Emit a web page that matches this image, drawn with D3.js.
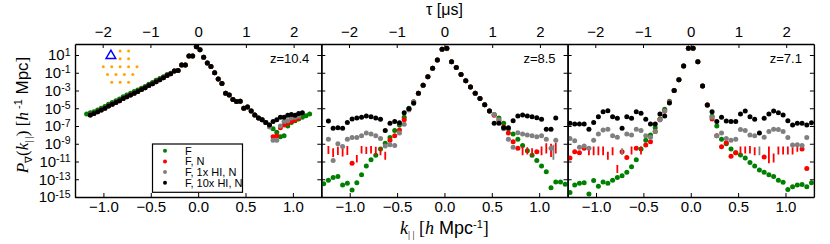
<!DOCTYPE html>
<html>
<head>
<meta charset="utf-8">
<script src="https://cdn.jsdelivr.net/npm/d3@7"></script>
<style>
body { margin: 0; background: #fff; }
text { font-family: "Liberation Sans", Arial, sans-serif; }
</style>
</head>
<body>
<svg id="chart" width="830" height="244"></svg>
<script>
// ---- data (values are log10 of P, null = not plotted) ----
var kTicks = [-1.0, -0.5, 0.0, 0.5, 1.0];
var tauTicks = [-2, -1, 0, 1, 2];
var yTickExp = [1, -1, -3, -5, -7, -9, -11, -13, -15];
var panelLabels = ["z=10.4", "z=8.5", "z=7.1"];
var seriesNames = ["F", "F, N", "F, 1x HI, N", "F, 10x HI, N"];

// k|| grid, z=10.4
var k1 = [-1.177, -1.139, -1.100, -1.061, -1.023, -0.984, -0.946, -0.907, -0.868, -0.830, -0.791,
    -0.753, -0.714, -0.675, -0.637, -0.598, -0.560, -0.521, -0.482, -0.444, -0.405, -0.367, -0.328,
    -0.290, -0.251, -0.212, -0.174, -0.135, -0.097, -0.058, -0.019,
    0.019, 0.058, 0.097, 0.135, 0.174, 0.212, 0.251, 0.290, 0.328, 0.367, 0.405, 0.444, 0.482, 0.521,
    0.560, 0.598, 0.637, 0.675, 0.714, 0.753, 0.791, 0.830, 0.868, 0.907, 0.946, 0.984, 1.023, 1.061,
    1.100, 1.139, 1.177];
// k|| grid, z=8.5 and z=7.1
var k2 = [-1.275, -1.225, -1.175, -1.125, -1.075, -1.025, -0.975, -0.925, -0.875, -0.825, -0.775,
    -0.725, -0.675, -0.625, -0.575, -0.525, -0.475, -0.425, -0.375, -0.325, -0.275, -0.225, -0.175,
    -0.125, -0.075, -0.025,
    0.025, 0.075, 0.125, 0.175, 0.225, 0.275, 0.325, 0.375, 0.425, 0.475, 0.525, 0.575, 0.625, 0.675,
    0.725, 0.775, 0.825, 0.875, 0.925, 0.975, 1.025, 1.075, 1.125, 1.175, 1.225, 1.275];

var p1F = [-5.65, -5.5, -5.4, -5.2, -5.0, -4.8, -4.55, -4.35, -4.15, -3.95, -3.7, -3.5, -3.3, -3.1, -2.95,
    -2.75, -2.55, -2.3, -2.1, -1.85, -1.65, -1.45, -1.2, -1.05, -0.8, -0.75, -0.13, -0.13, 0.9, 0.9, 1.94,
    1.6, 0.75, 0.1, -0.3, -1.0, -1.7, -2.2, -3.3, -3.5, -4.0, -4.25, -4.2, -5.0, -4.85, -5.3, -5.75, -6.1,
    -6.3, -6.6, -6.9, -7.3, -7.7, -8.2, -8.1, -7.0, -6.6, -6.4, -6.2, -6.0, -5.85, -5.65];
var p1N = [null, -5.75, -5.6, -5.4, -5.2, -5.0, -4.75, -4.55, -4.35, -4.15, -3.9, -3.7, -3.5, -3.3, -3.1,
    -2.9, -2.7, -2.45, -2.25, -2.0, -1.8, -1.55, -1.3, -1.1, -0.8, -0.75, -0.13, -0.13, 0.9, 0.9, 1.94,
    1.6, 0.75, 0.1, -0.3, -1.0, -1.7, -2.2, -3.3, -3.5, -4.0, -4.25, -4.2, -5.0, -4.85, -5.3, -5.75, -6.1,
    -6.3, -6.6, -7.0, -8.2, -8.1, -7.2, -6.9, -6.7, -6.5, -6.3, -6.1, null, null, null];
var p1HI1 = [null, -5.75, -5.6, -5.4, -5.2, -5.0, -4.75, -4.55, -4.35, -4.15, -3.9, -3.7, -3.5, -3.3, -3.1,
    -2.9, -2.7, -2.45, -2.25, -2.0, -1.8, -1.55, -1.3, -1.1, -0.8, -0.75, -0.13, -0.13, 0.9, 0.9, 1.94,
    1.6, 0.75, 0.1, -0.3, -1.0, -1.7, -2.2, -3.3, -3.5, -4.0, -4.25, -4.2, -5.0, -4.85, -5.3, -5.75, -6.1,
    -6.3, -6.6, -7.1, -8.6, -8.6, -7.0, -6.5, -6.4, -6.1, -6.0, -5.9, null, null, null];
var p1HI10 = [null, -5.75, -5.6, -5.4, -5.2, -5.0, -4.75, -4.55, -4.35, -4.15, -3.9, -3.7, -3.5, -3.3, -3.1,
    -2.9, -2.7, -2.45, -2.25, -2.0, -1.8, -1.55, -1.3, -1.1, -0.8, -0.75, -0.13, -0.13, 0.9, 0.9, 1.94,
    1.6, 0.75, 0.1, -0.3, -1.0, -1.7, -2.2, -3.3, -3.5, -4.0, -4.25, -4.2, -5.0, -4.85, -5.3, -5.75, -6.1,
    -6.3, -6.6, -6.9, -6.5, -6.3, -6.0, -6.0, -5.8, -5.7, -5.8, -5.6, -5.5, null, null];

var p2F = [-13.5, -13.1, -12.8, -12.7, -13.65, -13.45, -14.2, -13.4, -12.5, -11.5, -10.8, -10.3, -9.6,
    -8.95, -8.3, -7.5, -6.9, -6.0, -5.0, -4.26, -3.3, -2.4, -1.45, -0.5, 0.44, 1.64,
    1.7, 0.25, -0.4, -1.2, -1.9, -2.6, -3.3, -3.9, -4.6, -5.3, -5.7, -6.1, -6.7, -7.3, -7.9, -8.5, -9.2,
    -9.8, -10.3, -10.9, -11.5, -12.15, -13.95, -13.3, -13.3, -13.55];
var p2N = [null, null, null, null, null, null, -11.2, null, null, null, null, null, null, null, -8.6,
    -8.1, -7.45, -6.3, -5.1, -4.3, -3.3, -2.4, -1.45, -0.5, 0.44, 1.64,
    1.75, 0.25, -0.4, -1.2, -1.9, -2.6, -3.3, -3.9, -4.6, -5.3, -5.8, -6.4, -7.1, -7.8, -8.77, -9.5,
    null, null, null, -9.9, null, null, null, null, null, null];
var p2HI1 = [null, -8.5, -10.9, -9.0, -9.3, -8.5, -8.3, -8.3, -8.1, -7.8, -7.9, -8.1, -8.4, -9.25, -9.1,
    -9.2, -7.8, -6.8, -5.2, -4.3, -3.3, -2.4, -1.45, -0.5, 0.44, 1.64,
    1.75, 0.25, -0.4, -1.2, -1.9, -2.6, -3.3, -3.9, -4.6, -5.3, -5.7, -6.3, -7.3, -8.5, -9.4, -7.75, -7.9,
    -8.0, -8.1, -8.2, -8.1, -8.5, -9.5, -8.6, null, null];
var p2HI10 = [null, -6.44, -7.26, -7.2, -7.26, -6.6, -6.2, -6.1, -6.0, -5.87, -5.95, -6.1, -6.25, -7.5,
    -6.7, -6.5, -6.63, -5.5, -5.05, -4.45, -3.3, -2.4, -1.45, -0.5, 0.44, 1.64,
    1.75, 0.25, -0.4, -1.2, -1.9, -2.6, -3.3, -3.9, -4.6, -5.3, -6.7, -6.7, -7.2, -7.2, -6.4, -5.87, -5.76,
    -5.87, -5.95, -6.06, -6.25, -7.37, -7.37, -6.1, null, null];

var p3F = [-14.5, -13.65, -13.45, -13.4, -14.65, -13.15, -13.8, -13.3, -13.45, -13.1, -12.8, -12.6, -12.2,
    -11.6, -10.8, -9.6, -8.6, -8.0, -7.2, -6.2, -5.1, -4.2, -3.0, -1.8, -0.24, 1.75,
    1.75, 0.25, -2.5, -4.63, -5.9, -7.0, -8.5, -9.0, -9.6, -10.0, -10.27, -10.6, -11.1, -11.5, -11.96,
    -12.2, -12.5, -12.7, -13.1, -13.35, -14.15, -13.85, -13.65, -13.6, -13.85, -13.4];
var p3N = [-10.6, -9.9, -10.0, -9.5, null, null, null, null, null, null, null, -9.9, -10.55, null, -9.5,
    null, -9.15, -8.77, -7.63, -6.3, -5.3, -4.3, -3.0, -1.8, -0.24, 1.75,
    1.75, 0.25, -2.5, -4.63, -6.2, -8.1, -9.33, -8.9, -10.4, -10.0, null, null, null, null, null, -10.5,
    null, null, null, null, null, null, null, -9.6, -11.8, null];
var p3HI1 = [-8.4, -8.65, -9.4, -9.25, -9.5, -8.6, -7.9, -7.45, -7.37, -8.1, -8.27, null, -7.9, -8.0,
    -7.37, -7.5, -8.1, -8.27, -7.63, -6.3, -5.3, -4.3, -3.0, -1.8, -0.24, 1.75,
    1.75, 0.25, -2.5, -4.63, -6.0, -8.1, -7.8, -8.4, -8.6, -8.5, -7.4, -7.5, -8.0, -8.1, null, -8.27,
    -7.63, -7.37, -7.4, -7.63, -8.3, -9.15, -9.1, -9.2, -8.3, null];
var p3HI10 = [-6.7, -6.78, -6.78, -6.78, -7.37, -6.6, -5.95, -5.4, -5.28, -5.95, -6.13, -7.26, -5.95,
    -6.13, -5.4, -5.57, -6.25, -6.78, -6.78, -5.65, -5.87, -4.4, -3.0, -1.8, -0.24, 1.75,
    1.75, 0.25, -2.5, -4.63, -5.4, -6.5, -6.0, -6.44, -6.5, -6.5, -5.65, -5.3, -5.95, -6.25, -7.8, -6.13,
    -5.65, -5.3, -5.5, -5.76, -6.4, -6.9, -6.7, -6.7, -6.9, -6.63];

// error bars of points whose value falls below zero: [k, log10 low, log10 high]
var p2RedBars = [[-1.225, -10.16, -9.25], [-1.175, -10.5, -9.5], [-1.125, -10.27, -9.33], [-1.075, -10.45, -9.33],
    [-1.025, -10.27, -9.25], [-0.925, -11.1, -10.27], [-0.875, -10.1, -9.25], [-0.825, -10.16, -9.33],
    [-0.775, -10.1, -9.25], [-0.725, -10.27, -9.33], [-0.675, -10.3, -9.4], [-0.625, -10.8, -9.9],
    [0.825, -10.3, -9.3], [0.875, -10.2, -9.4], [0.925, -10.4, -9.5], [1.025, -10.3, -9.3],
    [1.075, -10.1, -8.95], [1.125, -10.5, -9.0], [1.175, -10.1, -8.9]];
var p2GreyBars = [[1.15, -10.8, -9.1]];
var p3RedBars = [[-1.075, -10.3, -9.3], [-1.025, -10.3, -9.3], [-0.975, -10.3, -9.3], [-0.925, -10.3, -9.3],
    [-0.875, -10.8, -9.9], [-0.825, -10.3, -9.4], [-0.775, -12.3, -11.4], [-0.625, -10.2, -9.3],
    [-0.525, -10.2, -9.3], [0.525, -10.2, -9.3], [0.575, -10.1, -9.3], [0.625, -10.1, -9.25],
    [0.675, -10.3, -9.4], [0.825, -11.2, -9.3], [0.875, -11.1, -10.1], [0.925, -10.2, -9.3],
    [0.975, -10.2, -9.3], [1.025, -10.2, -9.3], [1.075, -10.2, -9.4], [1.125, -9.9, -9.3]];
var p3GreyBars = [[-0.725, -10.27, -9.5], [0.725, -10.3, -9.3]];

// array layout inset (antenna positions, grid units) and the marked antenna
var layoutX = [2, 3, 2, 3, 0, 1, 2, 3, 4, 0.5, 1.5, 2.5, 3.5, 1, 2, 3];
var layoutY = [0, 0, 1, 1, 2, 2, 2, 2, 2, 3, 3, 3, 3, 4, 4, 4];
var markedX = [0.9], markedY = [0.6];

// ---- layout ----
var colors = ["green", "red", "gray", "black"];
let margin = {left: 75, top: 44}, panelWidth = 246.3, panelHeight = 153;

var panels = [
    {k: k1, series: [p1F, p1N, p1HI1, p1HI10], redBars: [], greyBars: [], label: panelLabels[0]},
    {k: k2, series: [p2F, p2N, p2HI1, p2HI10], redBars: p2RedBars, greyBars: p2GreyBars, label: panelLabels[1]},
    {k: k2, series: [p3F, p3N, p3HI1, p3HI10], redBars: p3RedBars, greyBars: p3GreyBars, label: panelLabels[2]}
];

var svg = d3.select("#chart");
svg.append("rect").attr("width", 830).attr("height", 244).attr("fill", "white");

svg.append("defs").append("clipPath").attr("id", "panelclip")
    .append("rect").attr("width", panelWidth).attr("height", panelHeight);

// scales
var x = d3.scaleLinear().domain([-1.3, 1.3]).range([0, panelWidth]);
var tau = d3.scaleLinear().domain([-2.58, 2.58]).range([0, panelWidth]);
var y = d3.scaleLog().domain([1e-15, Math.pow(10, 2.24)]).range([panelHeight, 0]);

function styleAxis(g){
    g.attr("font-family", null).attr("font-size", null);
    g.select(".domain").attr("stroke-width", 1.4);
    g.selectAll(".tick line").attr("stroke-width", 1);
}

panels.forEach(function(p, i){
    var g = svg.append("g")
        .attr("transform", `translate(${margin.left + i * panelWidth}, ${margin.top})`);

    var plot = g.append("g").attr("clip-path", "url(#panelclip)");

    //draw every series, bars go under their dots
    p.series.forEach(function(s, j){
        var bars = j == 1 ? p.redBars : (j == 2 ? p.greyBars : []);
        plot.selectAll(null)
            .data(bars)
            .enter()
            .append("line")
            .attr("x1", d => x(d[0])).attr("x2", d => x(d[0]))
            .attr("y1", d => y(Math.pow(10, d[1])))
            .attr("y2", d => y(Math.pow(10, d[2])))
            .attr("stroke", colors[j])
            .attr("stroke-width", 1.8);

        var pts = p.k.map((k, n) => ({k: k, v: s[n]})).filter(d => d.v !== null);
        plot.selectAll(null)
            .data(pts)
            .enter()
            .append("circle")
            .attr("cx", d => x(d.k))
            .attr("cy", d => y(Math.pow(10, d.v)))
            .attr("r", 2.5)
            .attr("fill", colors[j]);
    });

    //bottom axis k||
    var bottomAxis = g.append("g")
        .attr("transform", `translate(0, ${panelHeight})`)
        .call(d3.axisBottom(x).tickValues(kTicks).tickSize(-4).tickSizeOuter(0)
            .tickPadding(4.5).tickFormat(d3.format(".1f")));
    styleAxis(bottomAxis);
    bottomAxis.selectAll("text").attr("font-size", "15px");

    //top axis tau
    var topAxis = g.append("g")
        .call(d3.axisTop(tau).tickValues(tauTicks).tickSize(-4).tickSizeOuter(0)
            .tickPadding(7).tickFormat(d3.format("d")));
    styleAxis(topAxis);
    topAxis.selectAll("text").attr("font-size", "15px");

    //left and right axes
    var leftAxis = g.append("g")
        .call(d3.axisLeft(y).tickValues(yTickExp.map(e => Math.pow(10, e))).tickSize(-4)
            .tickSizeOuter(0).tickPadding(4.5).tickFormat(""));
    styleAxis(leftAxis);

    var rightAxis = g.append("g")
        .attr("transform", `translate(${panelWidth}, 0)`)
        .call(d3.axisRight(y).tickValues(yTickExp.map(e => Math.pow(10, e))).tickSize(-4)
            .tickSizeOuter(0).tickFormat(""));
    styleAxis(rightAxis);

    if (i == 0){
        leftAxis.selectAll(".tick text").each(function(d){
            var t = d3.select(this);
            t.attr("font-size", "15px").text("10");
            t.append("tspan").attr("dy", "-0.45em").attr("font-size", "10.5px")
                .text(String(Math.round(Math.log10(d))));
        });
    }

    //redshift label
    g.append("text")
        .attr("x", panelWidth - 12)
        .attr("y", 19)
        .attr("text-anchor", "end")
        .attr("font-size", "13px")
        .text(p.label);

    //legend and inset in first panel
    if (i == 0){
        var leg = g.append("g").attr("transform", "translate(77.5, 100)");
        leg.append("rect").attr("width", 90).attr("height", 48.3)
            .attr("fill", "white").attr("stroke", "black").attr("stroke-width", 1.2);
        seriesNames.forEach(function(name, j){
            leg.append("circle").attr("cx", 12.5).attr("cy", 6.7 + j * 10.7).attr("r", 2)
                .attr("fill", colors[j]);
            leg.append("text").attr("x", 32.5).attr("y", 10.7 + j * 10.7)
                .attr("font-size", "11px").text(name);
        });

        var lx = d3.scaleLinear().domain([0, 4]).range([28.3, 62]);
        var ly = d3.scaleLinear().domain([0, 4]).range([7, 38.3]);
        g.selectAll(null)
            .data(layoutX)
            .enter()
            .append("circle")
            .attr("cx", (d, n) => lx(d))
            .attr("cy", (d, n) => ly(layoutY[n]))
            .attr("r", 1.5)
            .attr("fill", "orange");
        g.selectAll(null)
            .data(markedX)
            .enter()
            .append("path")
            .attr("d", d3.symbol().type(d3.symbolTriangle).size(40))
            .attr("transform", (d, n) => `translate(${lx(d)}, ${ly(markedY[n])})`)
            .attr("fill", "none")
            .attr("stroke", "blue")
            .attr("stroke-width", 1.5);
    }
});

//axis titles
var serif = "'Liberation Serif', 'DejaVu Serif', serif";
var ylab = svg.append("text")
    .attr("transform", "translate(28, 115) rotate(-90)")
    .attr("text-anchor", "middle")
    .attr("font-size", "17px");
ylab.append("tspan").attr("font-family", serif).attr("font-style", "italic").text("P");
ylab.append("tspan").attr("font-size", "10px").attr("dy", 4).text("\u2207");
ylab.append("tspan").attr("dy", -4).attr("font-family", serif).text("(");
ylab.append("tspan").attr("font-family", serif).attr("font-style", "italic").text("k");
ylab.append("tspan").attr("font-size", "10px").attr("dy", 4).attr("font-family", serif).text("| |");
ylab.append("tspan").attr("dy", -4).attr("font-family", serif).text(") [");
ylab.append("tspan").attr("font-family", serif).attr("font-style", "italic").text("h");
ylab.append("tspan").attr("font-size", "11px").attr("dy", -6).text(" -1");
ylab.append("tspan").attr("dy", 6).text(" Mpc");
ylab.append("tspan").attr("font-family", serif).text("]");

var xlab = svg.append("text")
    .attr("x", margin.left + 1.5 * panelWidth)
    .attr("y", 234)
    .attr("text-anchor", "middle")
    .attr("font-size", "18px");
xlab.append("tspan").attr("font-family", serif).attr("font-style", "italic").text("k");
xlab.append("tspan").attr("font-size", "10px").attr("dy", 4).attr("font-family", serif).text("| |");
xlab.append("tspan").attr("dy", -4).attr("font-family", serif).text(" [");
xlab.append("tspan").attr("font-family", serif).attr("font-style", "italic").text("h");
xlab.append("tspan").text(" Mpc");
xlab.append("tspan").attr("font-size", "11px").attr("dy", -6).text("-1");
xlab.append("tspan").attr("dy", 6).attr("font-family", serif).text("]");

svg.append("text")
    .attr("x", margin.left + 1.5 * panelWidth)
    .attr("y", 15)
    .attr("text-anchor", "middle")
    .attr("font-size", "16px")
    .text("\u03c4 [\u03bcs]");
</script>
</body>
</html>
